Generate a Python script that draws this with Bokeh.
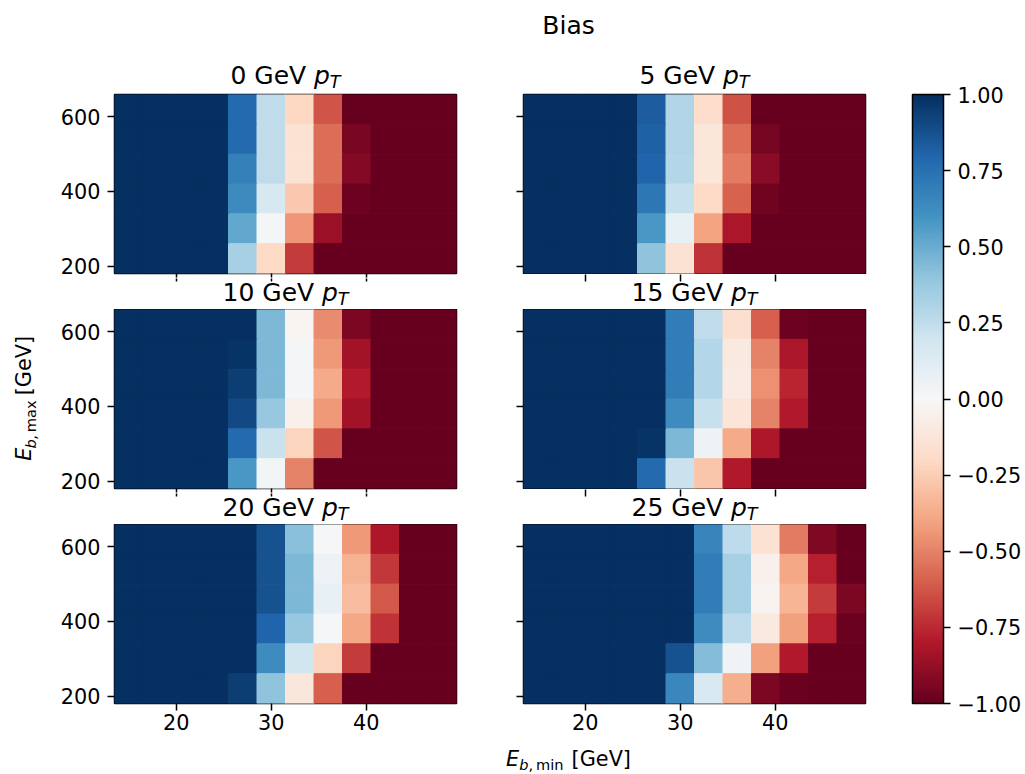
import math

import numpy as np
from bokeh.embed import file_html
from bokeh.layouts import column, row
from bokeh.models import (ColorBar, ColumnDataSource, CustomJSTickFormatter,
                          FixedTicker, Label, LinearColorMapper, Range1d)
from bokeh.plotting import figure
from bokeh.resources import INLINE

FONT = "DejaVu Sans"

# ---------------------------------------------------------------- data
# cell centres of the scan grid (GeV)
e_min = [15, 18, 21, 24, 27, 30, 33, 36, 39, 42, 45, 48]
e_max = [620, 540, 460, 380, 300, 220]          # rows listed top to bottom
pt_cuts = [0, 5, 10, 15, 20, 25]

bias_pt0 = [
    [1, 1, 1, 1, 0.78, 0.25, -0.21, -0.63, -1.00, -1, -1, -1],
    [1, 1, 1, 1, 0.78, 0.25, -0.15, -0.56, -0.95, -1, -1, -1],
    [1, 1, 1, 1, 0.68, 0.25, -0.15, -0.56, -0.92, -1, -1, -1],
    [1, 1, 1, 1, 0.64, 0.17, -0.27, -0.60, -0.98, -1, -1, -1],
    [1, 1, 1, 1, 0.52, 0.02, -0.44, -0.86, -1.00, -1, -1, -1],
    [1, 1, 1, 1, 0.33, -0.20, -0.70, -1.00, -1.00, -1, -1, -1],
]
bias_pt5 = [
    [1, 1, 1, 1, 0.83, 0.30, -0.18, -0.64, -1.00, -1, -1, -1],
    [1, 1, 1, 1, 0.82, 0.30, -0.12, -0.56, -0.96, -1, -1, -1],
    [1, 1, 1, 1, 0.80, 0.29, -0.12, -0.52, -0.90, -1, -1, -1],
    [1, 1, 1, 1, 0.72, 0.23, -0.20, -0.59, -0.97, -1, -1, -1],
    [1, 1, 1, 1, 0.58, 0.08, -0.40, -0.82, -1.00, -1, -1, -1],
    [1, 1, 1, 1, 0.40, -0.15, -0.72, -1.00, -1.00, -1, -1, -1],
]
bias_pt10 = [
    [1, 1, 1, 1, 1.00, 0.45, -0.02, -0.47, -0.94, -1, -1, -1],
    [1, 1, 1, 1, 0.98, 0.45, 0.02, -0.43, -0.84, -1, -1, -1],
    [1, 1, 1, 1, 0.95, 0.45, 0.02, -0.38, -0.79, -1, -1, -1],
    [1, 1, 1, 1, 0.90, 0.38, -0.05, -0.43, -0.84, -1, -1, -1],
    [1, 1, 1, 1, 0.78, 0.22, -0.22, -0.63, -1.00, -1, -1, -1],
    [1, 1, 1, 1, 0.58, 0.03, -0.50, -1.00, -1.00, -1, -1, -1],
]
bias_pt15 = [
    [1, 1, 1, 1, 1.00, 0.70, 0.25, -0.17, -0.60, -0.98, -1, -1],
    [1, 1, 1, 1, 1.00, 0.70, 0.29, -0.10, -0.50, -0.82, -1, -1],
    [1, 1, 1, 1, 1.00, 0.70, 0.29, -0.08, -0.46, -0.76, -1, -1],
    [1, 1, 1, 1, 1.00, 0.63, 0.23, -0.13, -0.50, -0.80, -1, -1],
    [1, 1, 1, 1, 0.98, 0.45, 0.05, -0.38, -0.81, -1.00, -1, -1],
    [1, 1, 1, 1, 0.78, 0.22, -0.28, -0.80, -1.00, -1.00, -1, -1],
]
bias_pt20 = [
    [1, 1, 1, 1, 1.00, 0.87, 0.42, 0.01, -0.43, -0.81, -1, -1],
    [1, 1, 1, 1, 1.00, 0.87, 0.45, 0.06, -0.35, -0.71, -1, -1],
    [1, 1, 1, 1, 1.00, 0.87, 0.45, 0.08, -0.31, -0.62, -1, -1],
    [1, 1, 1, 1, 1.00, 0.80, 0.38, 0.01, -0.39, -0.72, -1, -1],
    [1, 1, 1, 1, 1.00, 0.63, 0.19, -0.22, -0.70, -1.00, -1, -1],
    [1, 1, 1, 1, 0.95, 0.40, -0.11, -0.60, -1.00, -1.00, -1, -1],
]
bias_pt25 = [
    [1, 1, 1, 1, 1, 1.00, 0.66, 0.26, -0.15, -0.52, -0.93, -1.00],
    [1, 1, 1, 1, 1, 1.00, 0.70, 0.33, -0.05, -0.39, -0.78, -1.00],
    [1, 1, 1, 1, 1, 1.00, 0.70, 0.33, -0.03, -0.34, -0.70, -0.94],
    [1, 1, 1, 1, 1, 1.00, 0.63, 0.26, -0.10, -0.41, -0.78, -0.99],
    [1, 1, 1, 1, 1, 0.87, 0.43, 0.04, -0.41, -0.80, -1.00, -1.00],
    [1, 1, 1, 1, 1, 0.65, 0.16, -0.36, -0.94, -0.99, -1.00, -1.00],
]
bias_grids = [bias_pt0, bias_pt5, bias_pt10, bias_pt15, bias_pt20, bias_pt25]

x_ticks = [20, 30, 40]
y_ticks = [200, 400, 600]
cbar_ticks = [-1.0, -0.75, -0.5, -0.25, 0.0, 0.25, 0.5, 0.75, 1.0]

# RdBu diverging map, red (-1) to blue (+1)
rdbu_anchors = ["#67001f", "#b2182b", "#d6604d", "#f4a582", "#fddbc7", "#f7f7f7",
                "#d1e5f0", "#92c5de", "#4393c3", "#2166ac", "#053061"]


def build_palette(anchors, n=256):
    rgb = np.array([[int(h[i:i + 2], 16) for i in (1, 3, 5)] for h in anchors], float)
    pos = np.linspace(0.0, 1.0, len(anchors))
    t = np.linspace(0.0, 1.0, n)
    cols = np.stack([np.interp(t, pos, rgb[:, k]) for k in range(3)], axis=1)
    return ["#%02x%02x%02x" % tuple(int(round(v)) for v in c) for c in cols]


mapper = LinearColorMapper(palette=build_palette(rdbu_anchors), low=-1.0, high=1.0)

# advance widths of DejaVu Sans (units per em = 2048), used to lay out mixed-style text
ADV = {"0": 1303, "1": 1303, "2": 1303, "3": 1303, "4": 1303, "5": 1303, "6": 1303,
       "7": 1303, "8": 1303, "9": 1303, " ": 651, "G": 1577, "e": 1260, "V": 1401,
       "p": 1300, "T": 1251, "E": 1294, "b": 1300, ",": 651, "m": 1995, "a": 1255,
       "x": 1212, "i": 569, "n": 1298, "[": 799, "]": 799, "\u2009": 410}
CAP_MID = 0.3645     # half the cap height of DejaVu Sans, in em


def text_w(s, px):
    return sum(ADV.get(ch, 1250) for ch in s) / 2048.0 * px


TICK_PX = "20.8px"
TITLE_PX = 25.0
LABEL_PX = 20.8
SUB_SCALE = 0.7

# ---------------------------------------------------------------- layout sizes
dx = e_min[1] - e_min[0]
dy = e_max[0] - e_max[1]
x_lo, x_hi = e_min[0] - dx / 2, e_min[-1] + dx / 2
y_lo, y_hi = e_max[-1] - dy / 2, e_max[0] + dy / 2

YLAB_W = 45
COL_W = [445, 390]
COL_BORDER = [(69, 34), (33, 15)]
FRAME_H = 179
PANEL_TOP = [1, 0, 0]                        # per row
PANEL_BOTTOM = [[5, 1], [5, 1], [40, 40]]    # per row, per column
STRIP_H = [[48, 48], [31, 35], [31, 35]]     # heading strip above each panel
TITLE_GAP = [9.5, 7.8, 7.8]                  # frame top to heading baseline
TICK_LEN = 7
HEADER_H, FOOTER_H, CB_W = 45, 31, 145
TOTAL_W = YLAB_W + sum(COL_W) + CB_W
BODY_H = sum(STRIP_H[r][0] + PANEL_TOP[r] + FRAME_H + PANEL_BOTTOM[r][0] for r in range(3))
FIG_CENTER_X = 568


def blank_figure(width, height, x_range, y_range, **kw):
    p = figure(width=width, height=height, output_backend="svg", toolbar_location=None,
               x_range=x_range, y_range=y_range, **kw)
    p.axis.visible = False
    p.grid.visible = False
    p.outline_line_color = None
    p.background_fill_color = "white"
    p.border_fill_color = "white"
    return p


def text_label(x, y, txt, size, style="normal", **kw):
    return Label(x=x, y=y, text=txt, text_font=FONT, text_font_style=style,
                 text_font_size=f"{size:.1f}px", text_color="black",
                 text_baseline="middle", **kw)


def style_axis(ax, ticks, show_labels, tick_in=0, tick_out=TICK_LEN, standoff=7):
    ax.ticker = FixedTicker(ticks=ticks)
    ax.axis_line_color = None
    ax.major_tick_line_color = "black"
    ax.major_tick_line_width = 1.5
    ax.major_tick_in = tick_in
    ax.major_tick_out = tick_out
    ax.minor_tick_line_color = None
    ax.major_label_text_font = FONT
    ax.major_label_text_font_size = TICK_PX
    ax.major_label_text_color = "black"
    ax.major_label_standoff = standoff
    if not show_labels:
        ax.major_label_text_font_size = "0px"
        ax.major_label_standoff = 0
        ax.major_label_overrides = {t: "" for t in ticks}


def title_strip(c, r, pt):
    """Panel heading '<pt> GeV p_T'.  Below the first row the strip also finishes
    the E_min ticks of the panel above, pointing down from that panel's lower edge."""
    h = STRIP_H[r][c]
    s = blank_figure(COL_W[c], h, Range1d(x_lo, x_hi), Range1d(0, h),
                     x_axis_location="above",
                     min_border_left=COL_BORDER[c][0], min_border_right=COL_BORDER[c][1],
                     min_border_top=0, min_border_bottom=0)
    if r > 0:
        drawn_above = PANEL_BOTTOM[r - 1][c] - 1
        s.xaxis.visible = True
        style_axis(s.xaxis[0], x_ticks, False, tick_in=TICK_LEN - drawn_above, tick_out=0)
    sub_px = TITLE_PX * SUB_SCALE
    main = f"{pt} GeV"
    w_main = text_w(main + " ", TITLE_PX)
    w_p = text_w("p", TITLE_PX)
    w_t = text_w("T", sub_px)
    start = -(w_main + w_p + w_t) / 2
    xc = (x_lo + x_hi) / 2
    base = TITLE_GAP[r] - PANEL_TOP[r]
    mid = base + CAP_MID * TITLE_PX
    sub_mid = base - 3.5 + CAP_MID * sub_px
    s.add_layout(text_label(xc, mid, main, TITLE_PX, x_offset=start, text_align="left"))
    s.add_layout(text_label(xc, mid, "p", TITLE_PX, "italic", x_offset=start + w_main,
                            text_align="left"))
    s.add_layout(text_label(xc, sub_mid, "T", sub_px, "italic",
                            x_offset=start + w_main + w_p, text_align="left"))
    return s


# ---------------------------------------------------------------- heatmap panels
columns = [[], []]
for i, (pt, grid) in enumerate(zip(pt_cuts, bias_grids)):
    r, c = divmod(i, 2)
    xs, ys, vs = [], [], []
    for yi, row_vals in zip(e_max, grid):
        for xi, v in zip(e_min, row_vals):
            xs.append(xi)
            ys.append(yi)
            vs.append(v)
    src = ColumnDataSource(dict(x=xs, y=ys, v=vs))
    top, bottom = PANEL_TOP[r], PANEL_BOTTOM[r][c]
    p = figure(width=COL_W[c], height=top + FRAME_H + bottom, output_backend="svg",
               toolbar_location=None, x_range=Range1d(x_lo, x_hi), y_range=Range1d(y_lo, y_hi),
               min_border_left=COL_BORDER[c][0], min_border_right=COL_BORDER[c][1],
               min_border_top=top, min_border_bottom=bottom)
    p.rect(x="x", y="y", width=dx, height=dy, source=src,
           fill_color={"field": "v", "transform": mapper},
           line_color={"field": "v", "transform": mapper}, line_width=1)
    p.grid.visible = False
    p.outline_line_color = "black"
    p.outline_line_width = 1.5
    p.background_fill_color = "white"
    p.border_fill_color = "white"
    style_axis(p.yaxis[0], y_ticks, c == 0)
    if r == 2:
        style_axis(p.xaxis[0], x_ticks, True, standoff=3)
    elif bottom > 1:
        style_axis(p.xaxis[0], x_ticks, False, tick_out=bottom - 1)
    else:
        # these ticks are drawn entirely by the heading strip underneath
        p.xaxis.visible = False
    columns[c].append(title_strip(c, r, pt))
    columns[c].append(p)

# ---------------------------------------------------------------- shared y-axis label
ylab = blank_figure(YLAB_W, BODY_H, Range1d(0, YLAB_W), Range1d(0, BODY_H),
                    min_border=0)
sub_px = LABEL_PX * SUB_SCALE
y_base = 31.0
yparts = [("E", "italic", LABEL_PX, 0.0, 0.0), ("b", "italic", sub_px, 4.0, 0.0),
          (",\u2009max", "normal", sub_px, 4.0, 0.0),
          ("[GeV]", "normal", LABEL_PX, 0.0, text_w(" ", LABEL_PX) + 1.5)]
total = sum(text_w(t, s) + gap for t, _, s, _, gap in yparts)
pos = BODY_H - (398 - HEADER_H) - total / 2
for txt, style, size, shift, gap in yparts:
    pos += gap
    ylab.add_layout(text_label(y_base + shift - CAP_MID * size, pos, txt, size, style,
                               angle=math.pi / 2, text_align="left"))
    pos += text_w(txt, size)

# ---------------------------------------------------------------- colour bar
# the bar spans the three panel rows; the frame is padded so the end labels fit
bar_top = STRIP_H[0][0] + PANEL_TOP[0]
bar_h = BODY_H - bar_top - PANEL_BOTTOM[2][0]
pad_top, pad_bottom = 25, 20
cb_fig = blank_figure(CB_W, BODY_H, Range1d(0, 1), Range1d(0, 1),
                      min_border_left=32, min_border_right=0,
                      min_border_top=bar_top - pad_top,
                      min_border_bottom=PANEL_BOTTOM[2][0] - pad_bottom)
cbar = ColorBar(color_mapper=mapper, ticker=FixedTicker(ticks=cbar_ticks),
                formatter=CustomJSTickFormatter(code="return tick.toFixed(2).replace('-', '\u2212');"),
                location=(0, pad_bottom), width=31, height=bar_h, padding=0, margin=0,
                major_tick_out=7, major_tick_in=0, major_tick_line_color="black",
                major_tick_line_width=1.5, minor_tick_line_color=None,
                bar_line_color="black", bar_line_width=1.5, label_standoff=7,
                major_label_text_font=FONT, major_label_text_font_size=TICK_PX,
                major_label_text_color="black", border_line_color=None,
                background_fill_color=None)
cb_fig.add_layout(cbar, "center")

# ---------------------------------------------------------------- header / footer text
header = blank_figure(TOTAL_W, HEADER_H, Range1d(0, TOTAL_W), Range1d(0, HEADER_H), min_border=0)
header.add_layout(text_label(FIG_CENTER_X, 11 + CAP_MID * 25, "Bias", 25, text_align="center"))

footer = blank_figure(TOTAL_W, FOOTER_H, Range1d(0, TOTAL_W), Range1d(0, FOOTER_H), min_border=0)
x_base = 8.0
xparts = [("E", "italic", LABEL_PX, 0.0, 0.0), ("b", "italic", sub_px, -3.5, 0.0),
          (",\u2009min", "normal", sub_px, -3.5, 0.0),
          ("[GeV]", "normal", LABEL_PX, 0.0, text_w(" ", LABEL_PX) + 1.5)]
total = sum(text_w(t, s) + gap for t, _, s, _, gap in xparts)
pos = FIG_CENTER_X - total / 2
for txt, style, size, shift, gap in xparts:
    pos += gap
    footer.add_layout(text_label(pos, x_base + shift + CAP_MID * size, txt, size, style,
                                 text_align="left"))
    pos += text_w(txt, size)

layout = column(header,
                row(ylab, column(*columns[0]), column(*columns[1]), cb_fig),
                footer)

with open("out.html", "w") as f:
    f.write(file_html(layout, INLINE, title="Bias"))
